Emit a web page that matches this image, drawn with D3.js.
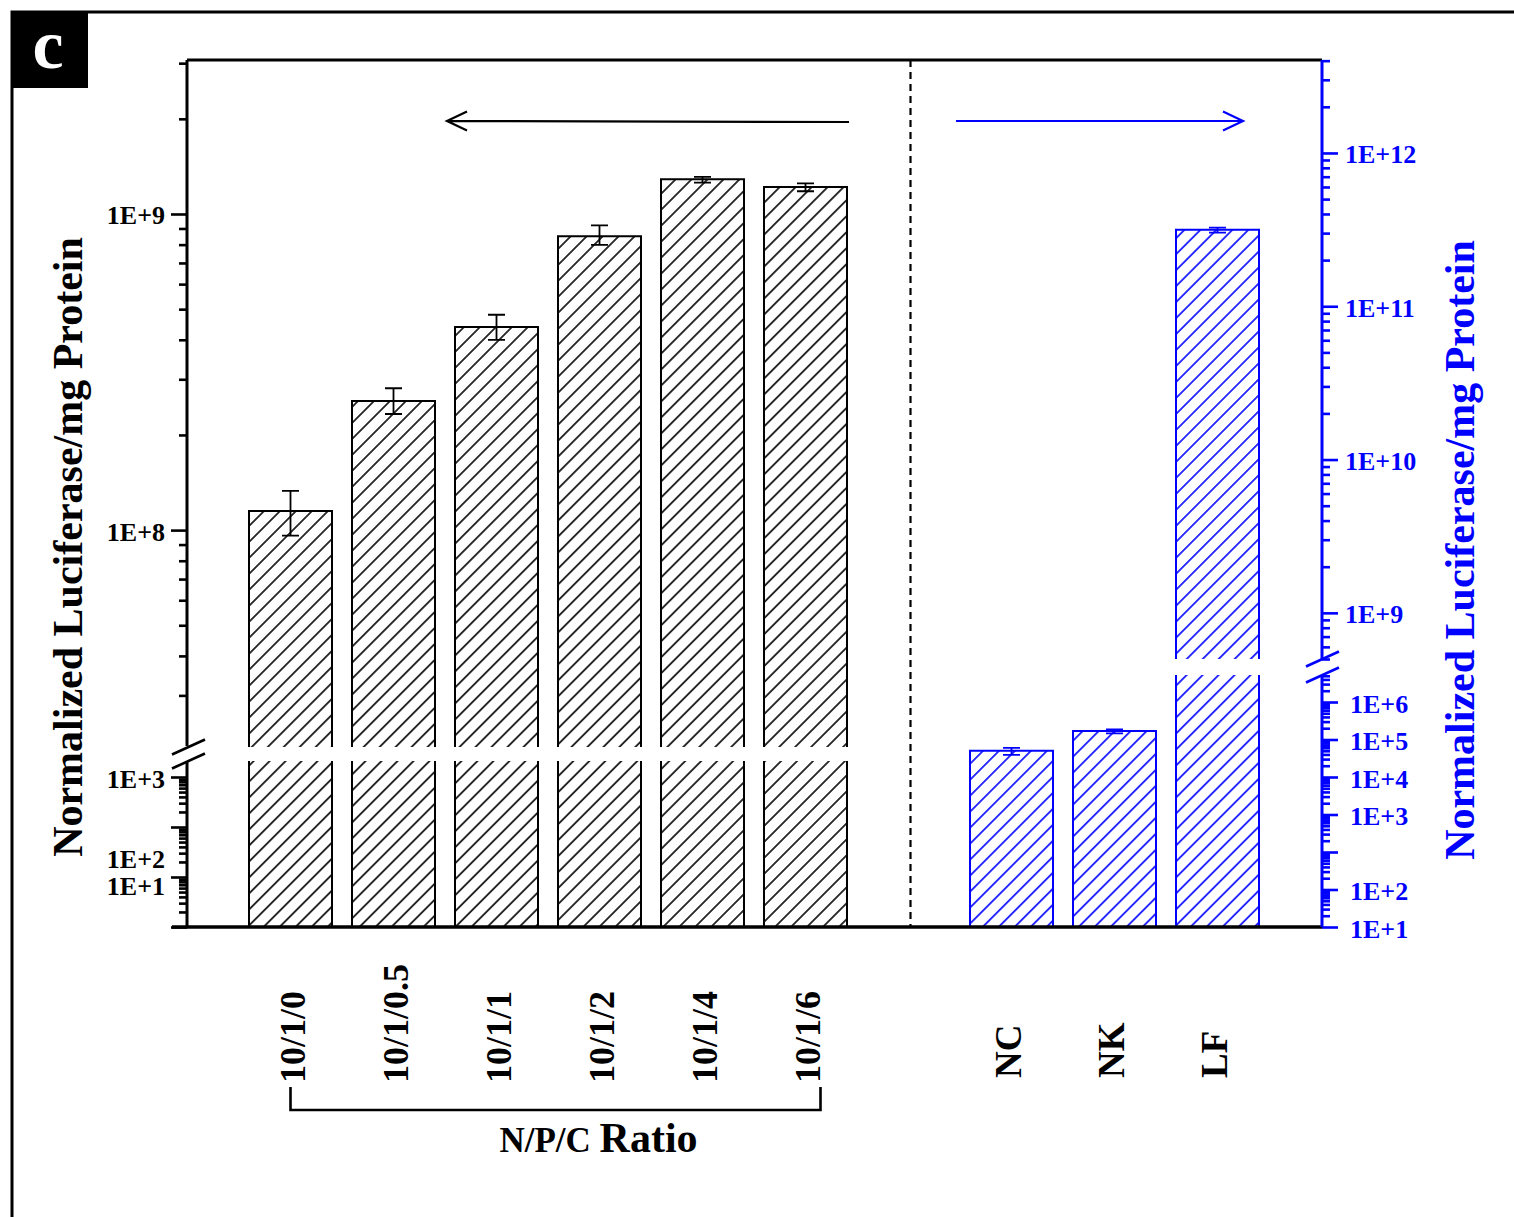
<!DOCTYPE html>
<html><head><meta charset="utf-8">
<script src="https://cdn.jsdelivr.net/npm/d3@7"></script>
<style>
body{margin:0;background:#fff}
svg{display:block}
text{font-family:"Liberation Serif","Times New Roman",serif;font-weight:bold}
</style>
</head><body>
<svg id="chart" width="1514" height="1217"></svg>
<script>
// ---------- data ----------
const ratioCategories = ["10/1/0", "10/1/0.5", "10/1/1", "10/1/2", "10/1/4", "10/1/6"];
const ratioValues   = [1.15e8, 2.56e8, 4.39e8, 8.5e8, 1.288e9, 1.217e9];
const ratioErrLow   = [0.96e8, 2.33e8, 4.0e8, 7.98e8, 1.256e9, 1.18e9];
const ratioErrHigh  = [1.33e8, 2.81e8, 4.8e8, 9.2e8, 1.31e9, 1.25e9];

const controlCategories = ["NC", "NK", "LF"];
const controlValues  = [5.0e4, 1.69e5, 3.15e11];
const controlErrLow  = [3.9e4, 1.46e5, 3.02e11];
const controlErrHigh = [6.0e4, 1.87e5, 3.26e11];

const leftUpperTickLabels  = ["1E+9", "1E+8"];
const leftUpperTickValues  = [1e9, 1e8];
const leftLowerTickLabels  = ["1E+3", "1E+2", "1E+1"];
const leftLowerLabelValues = [1e3, 24, 7.2];
const rightUpperTickLabels = ["1E+12", "1E+11", "1E+10", "1E+9"];
const rightUpperTickValues = [1e12, 1e11, 1e10, 1e9];
const rightLowerTickLabels = ["1E+6", "1E+5", "1E+4", "1E+3", "1E+2", "1E+1"];
const rightLowerLabelValues = [1e6, 1e5, 1e4, 1e3, 1e1, 1e0];

const yTitle = "Normalized Luciferase/mg Protein";
const groupTitleA = "N/P/C ";
const groupTitleB = "Ratio";
const panelLetter = "c";

// ---------- setup ----------
const BLUE = "#0000ff";
const svg = d3.select("#chart");
const defs = svg.append("defs");
function hatch(id, color) {
  const p = defs.append("pattern").attr("id", id).attr("patternUnits", "userSpaceOnUse")
    .attr("width", 11.3).attr("height", 11.3).attr("patternTransform", "rotate(45)");
  p.append("line").attr("x1", 5.65).attr("x2", 5.65).attr("y1", -1).attr("y2", 12.3)
    .attr("stroke", color).attr("stroke-width", 1.6);
}
hatch("hK", "#000");
hatch("hB", BLUE);

// frame + panel letter
svg.append("path").attr("d", "M12,1217V12H1514").attr("fill", "none").attr("stroke", "#000").attr("stroke-width", 3);
svg.append("rect").attr("x", 11).attr("y", 11).attr("width", 77).attr("height", 77).attr("fill", "#000");
svg.append("text").attr("x", 48).attr("y", 68).attr("text-anchor", "middle").attr("fill", "#fff")
  .attr("font-size", 70).text(panelLetter);

// scales
const x = d3.scaleBand().domain([...ratioCategories, "", ...controlCategories])
  .range([239, 1269]).paddingInner(0.1942).paddingOuter(0.0971);
const bw = x.bandwidth();

const yLU = d3.scaleLog().domain([2.06e7, 3.07e9]).range([747, 60]);
const yLL = d3.scaleLog().domain([1, 2090]).range([927, 761]);
const yRU = d3.scaleLog().domain([5.0e8, 4.04e12]).range([659, 60]);
const yRL = d3.scaleLog().domain([1, 5.25e6]).range([927, 675]);

const X_LEFT = 187, X_RIGHT = 1322;

function isMajor(v) { const l = Math.log10(v); return Math.abs(l - Math.round(l)) < 1e-9; }
function drawTicks(scale, side, color) {
  const r = scale.range();
  const lo = Math.min(...r), hi = Math.max(...r);
  const tv = scale.ticks().filter(v => { const p = scale(v); return p >= lo - 0.5 && p <= hi + 0.5 && !(p < lo + 2.5 && scale === yLL); });
  const minors = tv.filter(v => !isMajor(v));
  const majors = tv.filter(v => isMajor(v));
  const mk = side === "left" ? d3.axisLeft : d3.axisRight;
  const xp = side === "left" ? X_LEFT : X_RIGHT;
  [[minors, 8], [majors, 16]].forEach(([vals, size]) => {
    const g = svg.append("g").attr("transform", `translate(${xp},0)`)
      .call(mk(scale).tickValues(vals).tickSize(size).tickSizeOuter(0).tickFormat(""));
    g.select(".domain").remove();
    g.selectAll(".tick line").attr("stroke", color).attr("stroke-width", 2.6);
  });
}
drawTicks(yLU, "left", "#000");
drawTicks(yLL, "left", "#000");
drawTicks(yRU, "right", BLUE);
drawTicks(yRL, "right", BLUE);

// bars
function barSeg(x0, yTop, yBot, color, fillId, withTop) {
  svg.append("rect").attr("x", x0).attr("y", yTop).attr("width", bw).attr("height", yBot - yTop)
    .attr("fill", `url(#${fillId})`);
  const d = withTop ? `M${x0},${yBot}V${yTop}H${x0 + bw}V${yBot}` : `M${x0},${yBot}V${yTop}M${x0 + bw},${yBot}V${yTop}`;
  svg.append("path").attr("d", d).attr("fill", "none").attr("stroke", color).attr("stroke-width", 2);
}
function errBar(cx, yHi, yLo, color) {
  svg.append("path").attr("d", `M${cx},${yHi}V${yLo}M${cx - 8.5},${yHi}H${cx + 8.5}M${cx - 8.5},${yLo}H${cx + 8.5}`)
    .attr("fill", "none").attr("stroke", color).attr("stroke-width", 1.8);
}
ratioCategories.forEach((c, i) => {
  const x0 = x(c);
  barSeg(x0, yLU(ratioValues[i]), yLU.range()[0], "#000", "hK", true);
  barSeg(x0, yLL.range()[1], yLL.range()[0], "#000", "hK", false);
  errBar(x0 + bw / 2, yLU(ratioErrHigh[i]), yLU(ratioErrLow[i]), "#000");
});
controlCategories.forEach((c, i) => {
  const x0 = x(c), v = controlValues[i];
  if (v > yRU.domain()[0]) {
    barSeg(x0, yRU(v), yRU.range()[0], BLUE, "hB", true);
    barSeg(x0, yRL.range()[1], yRL.range()[0], BLUE, "hB", false);
    errBar(x0 + bw / 2, yRU(controlErrHigh[i]), yRU(controlErrLow[i]), BLUE);
  } else {
    barSeg(x0, yRL(v), yRL.range()[0], BLUE, "hB", true);
    errBar(x0 + bw / 2, yRL(controlErrHigh[i]), yRL(controlErrLow[i]), BLUE);
  }
});

// axis lines and frame of plot
const line = (d, c, w) => svg.append("path").attr("d", d).attr("fill", "none").attr("stroke", c).attr("stroke-width", w);
line(`M${X_LEFT},60H${X_RIGHT}`, "#000", 3);
line(`M172,927H${X_RIGHT}`, "#000", 3.5);
line(`M${X_LEFT},60V${yLU.range()[0] - 1}M${X_LEFT},${yLL.range()[1] + 1}V927`, "#000", 3);
line(`M${X_RIGHT},60V${yRU.range()[0]}M${X_RIGHT},${yRL.range()[1]}V927`, BLUE, 3);
// break marks
function breakMarks(xc, yA, yB, color) {
  [yA, yB].forEach(y0 => line(`M${xc - 16},${y0 + 7.5}L${xc + 17},${y0 - 7.5}`, color, 2.6));
}
breakMarks(X_LEFT + 1, yLU.range()[0], yLL.range()[1], "#000");
breakMarks(X_RIGHT, yRU.range()[0], yRL.range()[1], BLUE);

// divider
const divX = x("") + bw / 2 + 2;
svg.append("line").attr("x1", divX).attr("x2", divX).attr("y1", 60).attr("y2", 927)
  .attr("stroke", "#000").attr("stroke-width", 2.2).attr("stroke-dasharray", "7,5");

// arrows
const ay = 121;
const aL1 = x(ratioCategories[1]) + bw + 12, aL2 = x(ratioCategories[5]) + bw + 2;
line(`M${aL2},${ay + 1}L${aL1},${ay}M${aL1 + 20},${ay - 9.5}L${aL1},${ay}L${aL1 + 20},${ay + 9.5}`, "#000", 2.2);
const aR1 = x(controlCategories[0]) - 14, aR2 = x(controlCategories[2]) + bw - 16;
line(`M${aR1},${ay}L${aR2},${ay}M${aR2 - 20},${ay - 9.5}L${aR2},${ay}L${aR2 - 20},${ay + 9.5}`, BLUE, 2.2);

// tick labels
function labels(vals, txt, scale, xp, anchor, color) {
  svg.append("g").selectAll("text").data(vals).join("text")
    .attr("x", xp).attr("y", d => scale(d) + 2).attr("text-anchor", anchor)
    .attr("dominant-baseline", "central").attr("font-size", 26).attr("fill", color)
    .text((d, i) => txt[i]);
}
labels(leftUpperTickValues, leftUpperTickLabels, yLU, 165, "end", "#000");
labels(leftLowerLabelValues, leftLowerTickLabels, yLL, 165, "end", "#000");
labels(rightUpperTickValues, rightUpperTickLabels, yRU, 1345, "start", BLUE);
labels(rightLowerLabelValues, rightLowerTickLabels, yRL, 1350, "start", BLUE);

// category labels (rotated, reading upward from the baseline row)
ratioCategories.forEach(c => {
  const cx = x(c) + bw / 2 + 14;
  svg.append("text").attr("transform", `translate(${cx},1083) rotate(-90)`)
    .attr("text-anchor", "start").attr("font-size", 36).text(c);
});
controlCategories.forEach(c => {
  const cx = x(c) + bw / 2 + 9;
  svg.append("text").attr("transform", `translate(${cx},1078) rotate(-90)`)
    .attr("text-anchor", "start").attr("font-size", 37).text(c);
});

// bracket + group title
const bx1 = x(ratioCategories[0]) + bw / 2, bx2 = x(ratioCategories[5]) + bw / 2 + 15;
line(`M${bx1},1087V1110H${bx2}V1087`, "#000", 2.6);
const gt = svg.append("text").attr("x", (bx1 + bx2) / 2 + 43).attr("y", 1152).attr("text-anchor", "middle");
gt.append("tspan").attr("font-size", 35).text(groupTitleA);
gt.append("tspan").attr("font-size", 42).text(groupTitleB);

// axis titles
svg.append("text").attr("transform", "translate(68,547) rotate(-90)").attr("text-anchor", "middle")
  .attr("dominant-baseline", "central").attr("font-size", 42).text(yTitle);
svg.append("text").attr("transform", "translate(1460,550) rotate(-90)").attr("text-anchor", "middle")
  .attr("dominant-baseline", "central").attr("font-size", 42).attr("fill", BLUE).text(yTitle);
</script>
</body></html>
